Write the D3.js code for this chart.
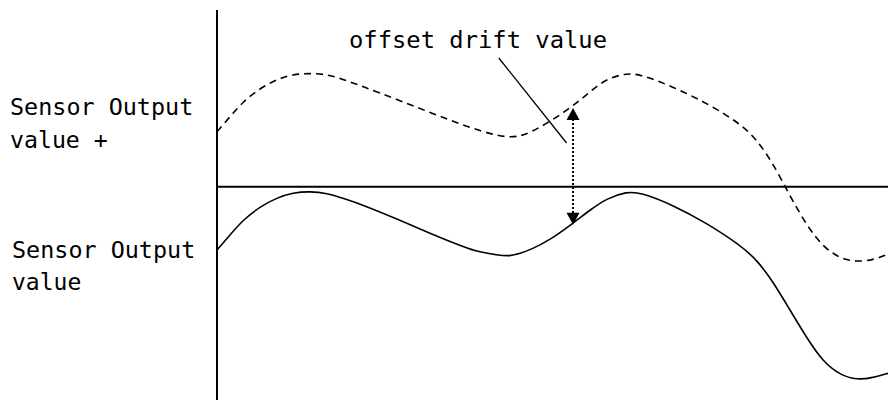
<!DOCTYPE html>
<html>
<head>
<meta charset="utf-8">
<script src="https://cdn.jsdelivr.net/npm/d3@7"></script>
<style>
  html, body { margin: 0; padding: 0; background: #fff; }
  svg { display: block; }
  text { font-family: "DejaVu Sans Mono", "Liberation Mono", monospace; fill: #000; }
</style>
</head>
<body>
<svg id="chart" width="888" height="403"></svg>
<script>
// ---- data (abstract units; x: 0..100 along time, y: 0 at reference line) ----
const timeX = [0, 1.94, 3.87, 6.41, 8.94, 11.33, 13.86, 16.39, 18.78, 21.76, 26.83, 31.74, 36.66, 39.2, 41.73, 43.67, 45.16, 46.65, 49.63, 53.06, 55.59, 58.12, 61.1, 63.04, 67.96, 73.03, 77.94, 80.48, 82.86, 85.39, 87.93, 90.31, 92.85, 95.38, 97.76, 100];
const sensorOutput = [-6.33, -4.83, -3.33, -2.0, -1.1, -0.6, -0.46, -0.66, -1.16, -1.83, -3.23, -4.66, -6.0, -6.56, -6.83, -6.96, -6.66, -6.33, -5.33, -3.66, -2.33, -1.16, -0.5, -0.56, -1.83, -3.66, -5.83, -7.33, -9.5, -12.33, -15.16, -17.5, -18.83, -19.33, -19.1, -18.66];
const sensorOutputDrift = [5.5, 7.0, 8.5, 9.84, 10.74, 11.24, 11.34, 11.24, 10.74, 10.01, 8.72, 7.42, 6.17, 5.6, 5.12, 4.94, 5.07, 5.4, 6.5, 8.07, 9.5, 10.84, 11.34, 11.24, 10.0, 8.34, 6.34, 4.67, 2.34, -0.93, -3.93, -6.0, -7.18, -7.51, -7.33, -6.76];
const driftIndex = 19; // sample where the offset drift arrow is drawn
const leftLabels = [["Sensor Output", "value +"], ["Sensor Output", "value"]];
const annotationText = "offset drift value";
const leaderLine = [[42.0, 12.87], [52.1, 4.37]];

// ---- layout ----
const svg = d3.select("#chart");
const x = d3.scaleLinear().domain([0, 100]).range([217, 888]);
const y = d3.scaleLinear().domain([-20, 16]).range([386.7, 26.7]);

const line = d3.line().x((d, i) => x(timeX[i])).y(d => y(d)).curve(d3.curveBasis);

// axes: vertical axis and reference line
svg.append("line").attr("x1", x(0)).attr("x2", x(0)).attr("y1", 10).attr("y2", 400)
  .attr("stroke", "#000").attr("stroke-width", 2);
svg.append("line").attr("x1", x(0)).attr("x2", x(100)).attr("y1", y(0)).attr("y2", y(0))
  .attr("stroke", "#000").attr("stroke-width", 2);

// curves
svg.append("path").datum(sensorOutputDrift).attr("d", line)
  .attr("fill", "none").attr("stroke", "#000").attr("stroke-width", 1.6)
  .attr("stroke-dasharray", "7,5");
svg.append("path").datum(sensorOutput).attr("d", line)
  .attr("fill", "none").attr("stroke", "#000").attr("stroke-width", 1.6);

// offset drift arrow
const ax = x(timeX[driftIndex]);
const yTop = y(sensorOutputDrift[driftIndex]) + 2;
const yBot = y(sensorOutput[driftIndex]) + 1.5;
const ah = 12, aw = 6.5;
svg.append("line").attr("x1", ax).attr("x2", ax).attr("y1", yTop + ah - 1).attr("y2", yBot - ah + 1)
  .attr("stroke", "#000").attr("stroke-width", 2).attr("stroke-dasharray", "2,2");
svg.append("path")
  .attr("d", `M${ax},${yTop} L${ax - aw},${yTop + ah} L${ax + aw},${yTop + ah} Z`)
  .attr("fill", "#000");
svg.append("path")
  .attr("d", `M${ax},${yBot} L${ax - aw},${yBot - ah} L${ax + aw},${yBot - ah} Z`)
  .attr("fill", "#000");

// leader line and annotation
svg.append("line")
  .attr("x1", x(leaderLine[0][0])).attr("y1", y(leaderLine[0][1]))
  .attr("x2", x(leaderLine[1][0])).attr("y2", y(leaderLine[1][1]))
  .attr("stroke", "#000").attr("stroke-width", 1.3);
svg.append("text").attr("x", 349).attr("y", 48)
  .attr("font-size", 23.5).attr("textLength", 258).attr("lengthAdjust", "spacingAndGlyphs")
  .text(annotationText);

// left labels
const labelPos = [{ x: 10, y: [115, 148] }, { x: 12, y: [258, 290] }];
leftLabels.forEach((lines, k) => {
  lines.forEach((t, j) => {
    svg.append("text").attr("x", labelPos[k].x).attr("y", labelPos[k].y[j])
      .attr("font-size", 23.5)
      .attr("textLength", t.length * 14.25 - 2).attr("lengthAdjust", "spacingAndGlyphs")
      .text(t);
  });
});
</script>
</body>
</html>
